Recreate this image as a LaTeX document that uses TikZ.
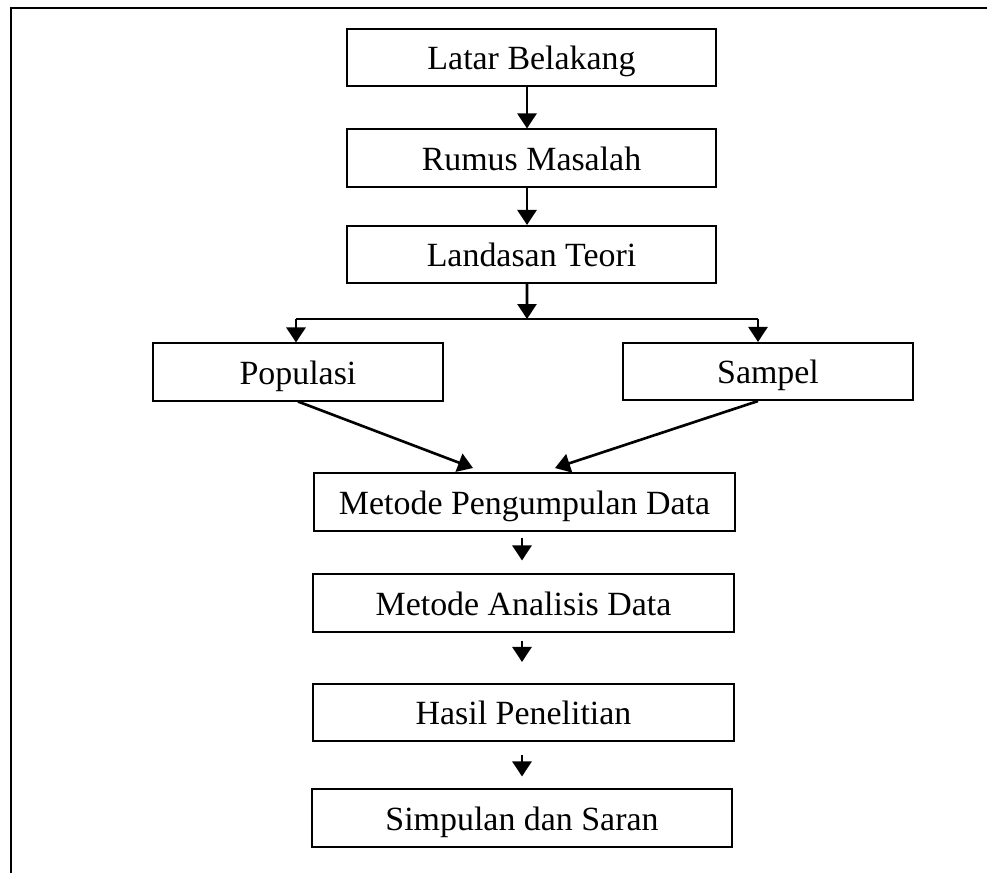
\documentclass[tikz,border=0pt]{standalone}
\usepackage{fontspec}
\setmainfont{Liberation Serif}
\usepackage{tikz}
\usetikzlibrary{calc, %for relative coord calculations
                arrows.meta, % for the arrow tips
                positioning}

\begin{document}
\begin{tikzpicture}[x=0.02cm, y=-0.02cm,
                    Kotak/.style={draw, line width=0.9pt, minimum height=1.15cm, inner sep=0pt,
                                  text height=18.5pt, text depth=4.3pt,
                                  font=\fontsize{19.3}{23}\selectfont},
                    panah/.style={-{Triangle[length=0.3cm, width=0.38cm]}, line width=1.5pt},
                    garis/.style={line width=1.3pt}
                    ]

    \useasboundingbox (0,0) rectangle (987,873);

    % FRAME %
    \draw[garis] (11,873) -- (11,8) -- (987,8);

    % TOP CHAIN %
    \node[Kotak, minimum width=7.38cm] (latar) at (531.5,57.5) {Latar Belakang};
    \node[Kotak, minimum width=7.38cm] (rumus) at (531.5,158) {Rumus Masalah};
    \node[Kotak, minimum width=7.38cm] (teori) at (531.5,254.5) {Landasan Teori};

    \draw[panah] ([xshift=-0.09cm]latar.south) -- ([xshift=-0.09cm]rumus.north);
    \draw[panah] ([xshift=-0.09cm]rumus.south) -- ([xshift=-0.09cm]teori.north);

    % SPLIT %
    \node[Kotak, minimum width=5.8cm] (populasi) at (298,372) {Populasi};
    \node[Kotak, minimum width=5.8cm] (sampel) at (768,371.5) {Sampel};

    \coordinate (cabang) at (527,319);
    \coordinate (kiri) at (296,319);
    \coordinate (kanan) at (758,319);

    \draw[panah] ([xshift=-0.09cm]teori.south) -- (cabang);
    \draw[line width=1pt] (kiri) -- (kanan);
    \draw[panah] (kiri) -- (kiri |- populasi.north);
    \draw[panah] (kanan) -- (kanan |- sampel.north);

    % MERGE %
    \node[Kotak, minimum width=8.42cm] (kumpul) at (524.5,502) {Metode Pengumpulan Data};

    \coordinate (masuk1) at (473,468);
    \coordinate (masuk2) at (555,468);

    \draw[panah] (populasi.south) -- (masuk1);
    \draw[panah] (kanan |- sampel.south) -- (masuk2);

    % BOTTOM CHAIN %
    \node[Kotak, minimum width=8.42cm] (analisis) at (523.5,603) {Metode Analisis Data};
    \node[Kotak, minimum width=8.42cm] (hasil) at (523.5,712.5) {Hasil Penelitian};
    \node[Kotak, minimum width=8.4cm] (simpulan) at (522,818) {Simpulan dan Saran};

    \foreach \x/\y/\a/\b in {kumpul/analisis/0.12/0.26, analisis/hasil/0.16/0.42, hasil/simpulan/0.26/0.24}
    \draw[panah, shorten <=\a cm, shorten >=\b cm] (\x.south -| 522,0) -- (\y.north -| 522,0);

\end{tikzpicture}
\end{document}
